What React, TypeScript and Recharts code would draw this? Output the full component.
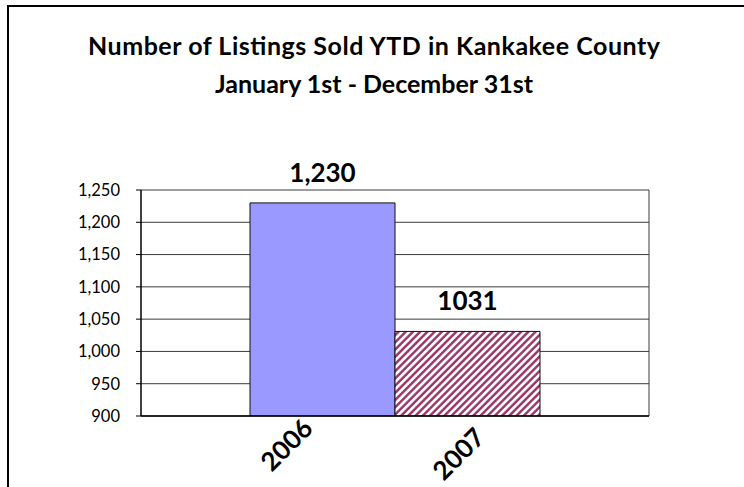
import React from 'react';
import { BarChart, Bar, XAxis, YAxis, CartesianGrid, Cell, LabelList } from 'recharts';

// Chart values
const years = ['2006', '2007'];
const listingsSold = [1230, 1031];
const valueLabels = ['1,230', '1031'];
const yTicks = [900, 950, 1000, 1050, 1100, 1150, 1200, 1250];
const titleLines = [
  'Number of Listings Sold YTD in Kankakee County',
  'January 1st - December 31st',
];

const data = years.map((year, i) => ({
  year,
  sold: listingsSold[i],
  label: valueLabels[i],
}));

const FONT = 'Lato, "Open Sans", sans-serif';
const barFills = ['#9999FF', 'url(#hatch2007)'];

// rotated year labels sit a little differently under each bar
const tickShift = [
  { dx: -8, dy: 14 },
  { dx: 19, dy: 23 },
];

function YearTick(props: any) {
  const { x, y, payload, index } = props;
  const s = tickShift[index] ?? { dx: 0, dy: 0 };
  const tx = x + s.dx;
  const ty = y + s.dy;
  return (
    <text
      x={tx}
      y={ty}
      transform={`rotate(-45 ${tx} ${ty})`}
      textAnchor="end"
      fontFamily={FONT}
      fontWeight={700}
      fontSize={26}
      fill="#000"
    >
      {payload.value}
    </text>
  );
}

function ValueLabel(props: any) {
  const { x, y, width, index } = props;
  return (
    <text
      x={x + width / 2}
      y={y - 21}
      textAnchor="middle"
      fontFamily={FONT}
      fontWeight={700}
      fontSize={26}
      fill="#000"
    >
      {valueLabels[index]}
    </text>
  );
}

export default function App() {
  return (
    <div style={{ position: 'absolute', left: 0, top: 0, width: 744, height: 487, background: '#fff', overflow: 'hidden' }}>
      {/* outer chart frame, runs off the right and bottom */}
      <div
        style={{
          position: 'absolute',
          left: 7,
          top: 5,
          width: 760,
          height: 500,
          border: '2px solid #000',
        }}
      />
      <BarChart
        width={744}
        height={487}
        data={data}
        margin={{ top: 190, right: 95, bottom: 0, left: 0 }}
        barCategoryGap={0}
        style={{ position: 'absolute', left: 0, top: 0, overflow: 'visible' }}
      >
        <defs>
          <pattern
            id="hatch2007"
            patternUnits="userSpaceOnUse"
            width={5.1}
            height={5.1}
            patternTransform="rotate(45)"
          >
            <rect width={5.1} height={5.1} fill="#fff" />
            <line x1={1.3} y1={0} x2={1.3} y2={5.1} stroke="#993366" strokeWidth={2.4} />
          </pattern>
        </defs>
        <CartesianGrid
          stroke="#3a3a3a"
          verticalCoordinatesGenerator={({ offset }: any) => [offset.left + offset.width]}
        />
        <XAxis
          dataKey="year"
          height={71}
          padding={{ left: 109, right: 109 }}
          tickLine={false}
          tickSize={0}
          tickMargin={0}
          axisLine={{ stroke: '#000', strokeWidth: 1.5 }}
          tick={<YearTick />}
          interval={0}
        />
        <YAxis
          width={141}
          domain={[900, 1250]}
          ticks={yTicks}
          allowDataOverflow
          tickSize={5}
          tickMargin={16}
          tickLine={{ stroke: '#000' }}
          axisLine={{ stroke: '#000', strokeWidth: 1.5 }}
          tickFormatter={(v: number) => v.toLocaleString('en-US')}
          tick={{ fontFamily: FONT, fontSize: 16.5, fill: '#000' }}
        />
        <Bar dataKey="sold" stroke="#111" strokeWidth={1} isAnimationActive={false}>
          {data.map((d, i) => (
            <Cell key={d.year} fill={barFills[i]} />
          ))}
          <LabelList dataKey="label" content={<ValueLabel />} />
        </Bar>
      </BarChart>
      <svg width={744} height={120} style={{ position: 'absolute', left: 0, top: 0, pointerEvents: 'none' }}>
        <text
          x={374}
          y={55}
          textAnchor="middle"
          fontFamily={FONT}
          fontWeight={700}
          fontSize={25}
          textLength={572}
          lengthAdjust="spacing"
          fill="#000"
        >
          {titleLines[0]}
        </text>
        <text
          x={374}
          y={93}
          textAnchor="middle"
          fontFamily={FONT}
          fontWeight={700}
          fontSize={25}
          textLength={318}
          lengthAdjust="spacing"
          fill="#000"
        >
          {titleLines[1]}
        </text>
      </svg>
    </div>
  );
}
